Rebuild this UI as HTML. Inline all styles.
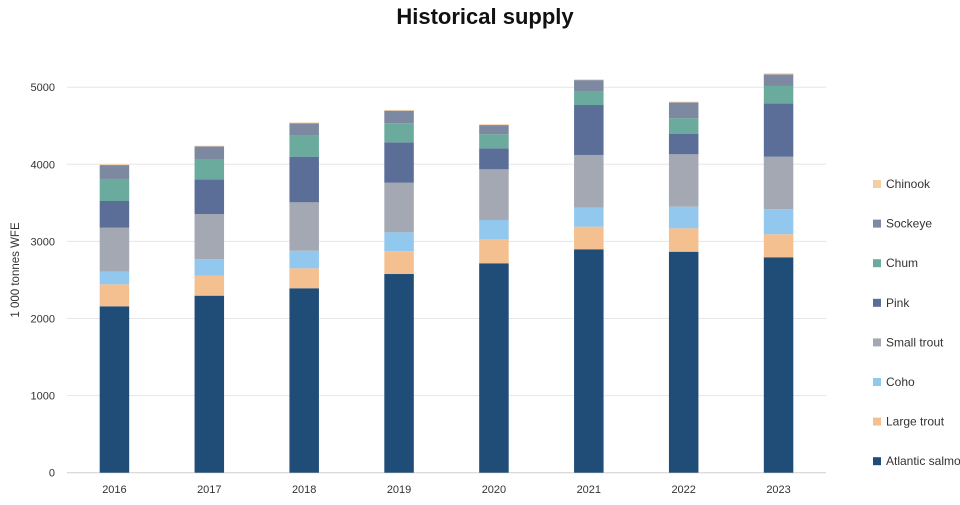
<!DOCTYPE html>
<html><head><meta charset="utf-8"><style>
body{margin:0;background:#fff;font-family:"Liberation Sans",sans-serif}
svg text{font-family:"Liberation Sans",sans-serif}
</style></head><body>
<svg id="chart" width="960" height="500">
<text x="485" y="24" text-anchor="middle" font-size="22" font-weight="bold" fill="#111">Historical supply</text>
<text transform="translate(19,270) rotate(-90)" text-anchor="middle" font-size="11.5" fill="#333">1 000 tonnes WFE</text>
<g id="grid"></g><g id="bars"></g><g id="legend"></g>
</svg>
<script>
const years=["2016","2017","2018","2019","2020","2021","2022","2023"];
const atlantic=[2158,2296,2392,2577,2716,2898,2866,2794];
const largeTrout=[285,259,259,295,315,293,304,298];
const coho=[164,213,228,246,247,246,280,328];
const smallTrout=[571,587,628,643,657,684,680,679];
const pink=[346,450,592,524,272,648,263,692];
const chum=[286,264,272,247,182,173,204,225];
const sockeye=[180,162,162,163,120,150,205,150];
const chinook=[10,10,10,10,10,10,10,14];
const yTicks=[0,1000,2000,3000,4000,5000];
const seriesNames=["Atlantic salmon","Large trout","Coho","Small trout","Pink","Chum","Sockeye","Chinook"];
const series=[atlantic,largeTrout,coho,smallTrout,pink,chum,sockeye,chinook];
const colors=["#1f4d78","#f4c08f","#92c8ee","#a3a8b3","#5a6e98","#6aab9e","#7d89a1","#f3cfa6"];
const NS="http://www.w3.org/2000/svg";
const x0=67,x1=826,y0=472.7,pxPer=0.0771;
const y=v=>y0-v*pxPer;
const band=(x1-x0)/years.length;
const xc=i=>x0+band*(i+0.5);
function mk(t,a,p){const e=document.createElementNS(NS,t);for(const k in a)e.setAttribute(k,a[k]);p.appendChild(e);return e;}
const grid=document.getElementById('grid');
yTicks.forEach(t=>{
  const l=mk('line',{x1:x0,x2:x1,y1:y(t),y2:y(t),stroke:t===0?'#cfcfcf':'#e6e6e6','stroke-width':1},grid);
  
  
  const tx=mk('text',{x:55,y:y(t)+4,'text-anchor':'end','font-size':11,fill:'#333'},grid);
  tx.textContent=t;
  
  
});
const bars=document.getElementById('bars');
years.forEach((yr,i)=>{
  let cum=0;
  series.forEach((s,j)=>{
    const v=s[i];
    const r=mk('rect',{x:xc(i)-14.75,width:29.5,y:y(cum+v),height:v*pxPer,fill:colors[j]},bars);
    
    
    cum+=v;
  });
  const tx=mk('text',{x:xc(i),y:493,'text-anchor':'middle','font-size':11,fill:'#333'},bars);
  tx.textContent=yr;
  
  
});
const leg=document.getElementById('legend');
for(let j=series.length-1;j>=0;j--){
  const k=series.length-1-j;
  const ly=184+k*39.6;
  const g=mk('g',{},leg);
  
  
  mk('rect',{x:873,y:ly-4,width:8,height:8,fill:colors[j]},g);
  const t=mk('text',{x:886,y:ly+4,'font-size':12,fill:'#333'},g);
  t.textContent=seriesNames[j];
}
</script>
</body></html>
